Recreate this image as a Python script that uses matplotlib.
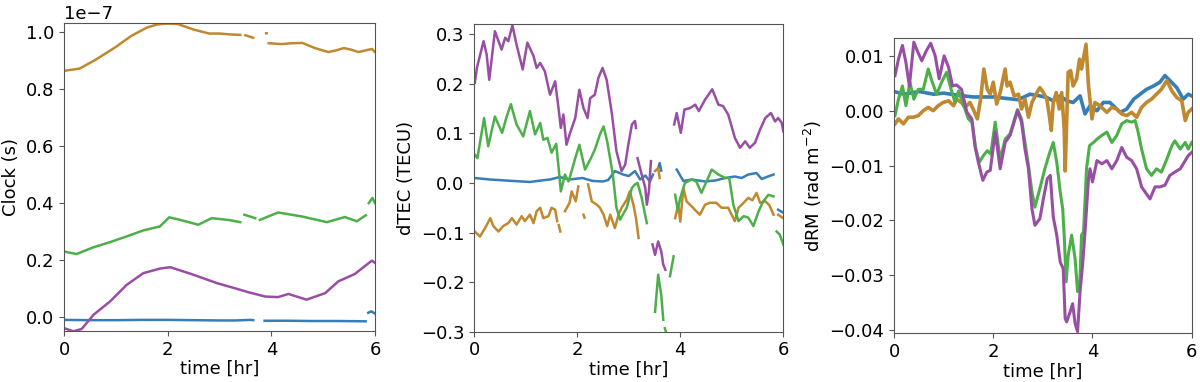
import numpy as np
import matplotlib
matplotlib.use("Agg")
import matplotlib.pyplot as plt

nan = np.nan

# ---------------- Panel 1: Clock (units of 1e-7 s) ----------------
clk_blue_t = [0, 0.5, 1.0, 1.5, 2.0, 2.5, 3.0, 3.3, 3.6, 3.65, nan, 3.87, 4.3, 4.8, 5.3, 5.82, nan, 5.87, 5.93, 6.0]
clk_blue_v = [-0.010, -0.011, -0.011, -0.010, -0.010, -0.011, -0.012, -0.012, -0.010, -0.011, nan,
              -0.013, -0.013, -0.014, -0.014, -0.015, nan, 0.015, 0.020, 0.012]

clk_orange_t = [0, 0.3, 0.6, 1.0, 1.3, 1.6, 1.8, 2.0, 2.2, 2.5, 2.8, 3.0, 3.2, 3.4, nan, 3.5, 3.65, nan,
                3.9, 3.91, nan, 3.95, 4.2, 4.4, 4.6, 4.84, 5.1, 5.25, 5.4, 5.55, 5.68, 5.8, 5.94, 6.0]
clk_orange_v = [0.864, 0.872, 0.902, 0.948, 0.987, 1.016, 1.027, 1.030, 1.028, 1.009, 0.995, 0.995, 0.992,
                0.990, nan, 0.989, 0.980, nan, 0.996, 0.996, nan, 0.961, 0.958, 0.961, 0.962, 0.944, 0.930,
                0.936, 0.944, 0.938, 0.930, 0.935, 0.941, 0.930]

clk_green_t = [0, 0.24, 0.57, 0.89, 1.21, 1.53, 1.85, 2.03, 2.24, 2.59, 2.85, 3.01, 3.2, 3.40, nan, 3.48,
               3.69, nan, 3.78, 4.13, 4.59, 5.07, 5.42, 5.65, 5.82, nan, 5.88, 5.95, 6.0]
clk_green_v = [0.230, 0.221, 0.245, 0.263, 0.283, 0.304, 0.318, 0.350, 0.341, 0.324, 0.347, 0.344, 0.340,
               0.333, nan, 0.359, 0.347, nan, 0.341, 0.367, 0.353, 0.333, 0.351, 0.336, 0.357, nan, 0.400,
               0.418, 0.400]

clk_purple_t = [0, 0.18, 0.34, 0.57, 0.89, 1.21, 1.53, 1.85, 2.05, 2.49, 2.95, 3.24, 3.56, 3.88, 4.13, 4.33,
                4.68, 5.04, 5.29, 5.61, 5.94, 6.0]
clk_purple_v = [-0.039, -0.050, -0.042, 0.008, 0.055, 0.113, 0.154, 0.170, 0.175, 0.149, 0.119, 0.104,
                0.087, 0.072, 0.070, 0.081, 0.061, 0.084, 0.125, 0.151, 0.198, 0.190]

# ---------------- Panel 2: dTEC (TECU) ----------------
tec_blue_t = [0, 0.3, 0.6, 1.08, 1.3, 1.47, 1.66, 1.85, 2.1, 2.3, 2.5, 2.6, 2.73, 2.89, 3.0, 3.12, 3.22,
              3.32, 3.41, 3.47, nan, 3.57, 3.6, 3.63, nan, 3.93, 4.06, 4.22, 4.48, 4.68, 4.87, 5.06, 5.19,
              5.32, 5.48, 5.58, 5.7, 5.81, nan, 5.9, 6.0]
tec_blue_v = [0.010, 0.007, 0.005, 0.002, 0.005, 0.007, 0.012, 0.007, 0.010, 0.004, 0.003, 0.006, 0.024,
              0.017, 0.014, 0.024, 0.007, 0.015, 0.003, 0.017, nan, 0.030, 0.040, 0.025, nan, 0.027, 0.004,
              0.007, 0.003, 0.005, 0.010, 0.013, 0.010, 0.017, 0.020, 0.008, 0.013, 0.017, nan, -0.054,
              -0.060]

tec_orange_t = [0.01, 0.11, 0.21, 0.31, 0.37, 0.47, 0.56, 0.66, 0.73, 0.82, 0.92, 0.98, 1.08, 1.15, 1.21,
                1.28, 1.34, 1.44, 1.50, 1.57, 1.61, nan, 1.64, 1.67, nan, 1.76, 1.85, 1.89, 1.97, 2.02, nan,
                2.12, 2.14, nan, 2.21, 2.28, 2.38, 2.44, 2.51, 2.58, 2.64, 2.73, 2.80, 2.86, 2.96, 3.02,
                3.09, 3.14, 3.19, nan, 3.51, 3.57, 3.60, nan, 3.90, 3.96, 4.0, 4.06, 4.12, 4.22, 4.31, 4.38,
                4.48, 4.57, 4.70, 4.80, 4.93, 5.03, 5.06, 5.13, 5.23, 5.32, 5.40, 5.48, 5.55, 5.65, 5.73,
                5.81, nan, 5.90, 6.0]
tec_orange_v = [-0.098, -0.108, -0.091, -0.071, -0.087, -0.098, -0.087, -0.081, -0.071, -0.084, -0.067,
                -0.077, -0.064, -0.081, -0.057, -0.050, -0.071, -0.067, -0.050, -0.054, -0.077, nan, -0.085,
                -0.098, nan, -0.057, -0.040, -0.017, -0.037, -0.007, nan, -0.064, -0.070, nan, -0.003,
                -0.037, -0.044, -0.050, -0.064, -0.087, -0.064, -0.091, -0.064, -0.050, -0.034, -0.017,
                -0.044, -0.071, -0.111, nan, 0.024, 0.030, 0.010, nan, -0.071, -0.044, -0.078, -0.010,
                -0.037, -0.047, -0.057, -0.064, -0.044, -0.040, -0.040, -0.050, -0.050, -0.071, -0.077,
                -0.050, -0.040, -0.030, -0.035, -0.020, -0.040, -0.037, -0.045, -0.064, nan, -0.064, -0.071]

tec_green_t = [0.01, 0.06, 0.19, 0.27, 0.40, 0.54, 0.62, 0.71, 0.82, 0.95, 1.08, 1.18, 1.28, 1.34, 1.42,
               1.50, 1.59, 1.65, 1.68, 1.76, 1.83, 1.89, 1.96, 2.04, 2.15, 2.25, 2.34, 2.44, 2.51, 2.58,
               2.69, 2.76, 2.83, 2.96, 3.06, 3.12, 3.17, 3.25, 3.35, nan, 3.51, 3.57, 3.63, 3.67, nan, 3.70,
               3.72, nan, 3.80, 3.87, nan, 3.90, 3.95, 4.0, 4.09, 4.22, 4.31, 4.41, 4.51, 4.61, 4.74, 4.87,
               4.95, 5.03, 5.13, 5.23, 5.32, 5.42, 5.52, 5.61, 5.71, 5.81, nan, 5.87, 5.93, 6.0]
tec_green_v = [0.057, 0.050, 0.131, 0.074, 0.134, 0.101, 0.131, 0.159, 0.118, 0.094, 0.145, 0.098, 0.121,
               0.087, 0.091, 0.061, 0.079, 0.017, -0.017, 0.017, 0.003, 0.024, 0.050, 0.077, 0.027, 0.047,
               0.067, 0.098, 0.114, 0.084, 0.017, -0.050, -0.074, -0.050, -0.010, -0.003, 0.000, -0.030,
               -0.081, nan, -0.260, -0.185, -0.226, -0.276, nan, -0.293, -0.300, nan, -0.188, -0.148, nan,
               -0.024, -0.054, -0.030, 0.000, 0.007, 0.003, -0.020, 0.003, 0.027, 0.017, 0.010, 0.010,
               -0.044, -0.077, -0.067, -0.070, -0.087, -0.057, -0.037, -0.024, -0.027, nan, -0.098, -0.104,
               -0.124]

tec_purple_t = [0.01, 0.05, 0.18, 0.24, 0.29, 0.40, 0.47, 0.53, 0.60, 0.66, 0.74, 0.82, 0.94, 1.03, 1.15,
                1.21, 1.28, 1.37, 1.47, 1.57, 1.65, 1.68, 1.73, 1.79, 1.86, 1.96, 2.04, 2.12, 2.20, 2.25,
                2.34, 2.41, 2.49, 2.57, 2.67, 2.76, 2.86, 2.93, 2.99, 3.06, 3.12, 3.14, nan, 3.17, 3.25,
                3.32, 3.35, 3.39, 3.43, nan, 3.46, 3.51, 3.57, 3.63, 3.67, 3.71, nan, 3.88, 3.93, 4.01,
                4.08, 4.19, 4.29, 4.36, 4.48, 4.62, 4.74, 4.83, 4.93, 5.06, 5.16, 5.26, 5.35, 5.45, 5.55,
                5.65, 5.76, 5.84, 5.90, 5.97, 6.0]
tec_purple_v = [0.202, 0.232, 0.286, 0.259, 0.208, 0.306, 0.286, 0.269, 0.293, 0.286, 0.318, 0.279, 0.229,
                0.283, 0.256, 0.232, 0.242, 0.225, 0.178, 0.205, 0.138, 0.111, 0.138, 0.077, 0.101, 0.131,
                0.188, 0.151, 0.131, 0.171, 0.178, 0.212, 0.232, 0.208, 0.141, 0.064, 0.024, 0.037, 0.077,
                0.118, 0.125, 0.111, nan, 0.050, 0.017, -0.010, -0.044, -0.017, 0.044, nan, -0.124, -0.145,
                -0.118, -0.138, -0.165, -0.175, nan, 0.118, 0.141, 0.101, 0.148, 0.151, 0.158, 0.145,
                0.168, 0.189, 0.158, 0.155, 0.138, 0.091, 0.071, 0.084, 0.071, 0.081, 0.108, 0.131, 0.141,
                0.124, 0.131, 0.121, 0.104]

# ---------------- Panel 3: dRM (rad m^-2) ----------------
rm_blue_t = [0, 0.2, 0.5, 0.8, 1.0, 1.3, 1.6, 2.0, 2.3, 2.5, 2.74, 2.94, 3.08, 3.21, 3.35, 3.48, 3.61,
             3.75, 3.85, 3.95, 4.09, 4.22, 4.35, 4.56, 4.69, 4.83, 4.96, 5.09, 5.23, 5.36, 5.46, 5.56, 5.70,
             5.83, 5.93, 6.0]
rm_blue_v = [0.0035, 0.0030, 0.0035, 0.0030, 0.0032, 0.0028, 0.0025, 0.0025, 0.0022, 0.0020, 0.0030,
             0.0027, 0.0024, 0.0018, 0.0027, 0.0018, 0.0015, 0.0027, -0.0006, 0.0009, 0.0000, 0.0015,
             0.0015, -0.0003, 0.0003, 0.0021, 0.0030, 0.0039, 0.0045, 0.0052, 0.0064, 0.0055, 0.0042,
             0.0021, 0.0030, 0.0027]

rm_orange_t = [0.02, 0.09, 0.19, 0.29, 0.39, 0.49, 0.59, 0.69, 0.79, 0.89, 0.99, 1.10, 1.20, 1.26, 1.36,
               1.43, 1.53, 1.61, 1.68, 1.75, 1.81, 1.88, 1.94, 2.0, 2.07, 2.14, 2.24, 2.28, 2.34, 2.42, 2.51,
               2.57, 2.64, 2.71, 2.78, 2.88, 2.94, 3.01, 3.08, 3.13, 3.17, 3.21, 3.27, 3.33, 3.38, 3.43,
               3.45, 3.48, 3.51, 3.56, 3.61, 3.68, 3.74, 3.78, 3.87, 3.92, 3.99, 4.05, 4.15, 4.29, 4.39,
               4.49, 4.59, 4.69, 4.79, 4.89, 4.99, 5.09, 5.19, 5.29, 5.39, 5.50, 5.60, 5.70, 5.80, 5.87,
               5.93, 6.0]
rm_orange_v = [-0.0024, -0.0015, -0.0024, -0.0012, -0.0012, -0.0009, 0.0000, 0.0006, 0.0000, 0.0009,
               0.0015, 0.0018, 0.0009, 0.0021, 0.0015, 0.0006, 0.0015, 0.0000, -0.0015, 0.0024, 0.0076,
               0.0039, 0.0030, 0.0052, 0.0012, 0.0033, 0.0076, 0.0045, 0.0052, 0.0027, 0.0030, 0.0003,
               0.0021, -0.0012, 0.0015, 0.0033, 0.0042, 0.0033, 0.0021, -0.0009, -0.0036, 0.0015, 0.0033,
               0.0003, 0.0033, -0.0033, -0.0110, -0.0020, 0.0070, 0.0073, 0.0045, 0.0058, 0.0094, 0.0076,
               0.0121, 0.0045, -0.0015, 0.0015, 0.0009, -0.0003, 0.0006, 0.0003, -0.0006, -0.0009, -0.0003,
               -0.0012, 0.0006, 0.0015, 0.0021, 0.0030, 0.0039, 0.0055, 0.0036, 0.0024, 0.0018, -0.0018,
               -0.0003, 0.0003]

rm_green_t = [0.02, 0.09, 0.17, 0.24, 0.32, 0.40, 0.49, 0.59, 0.69, 0.76, 0.86, 0.96, 1.06, 1.16, 1.23,
              1.30, 1.36, 1.43, 1.50, 1.57, 1.65, 1.72, 1.80, 1.88, 1.95, 2.04, 2.14, 2.24, 2.34, 2.44, 2.49,
              2.57, 2.64, 2.71, 2.78, 2.84, 2.94, 3.04, 3.14, 3.21, 3.28, 3.35, 3.40, 3.43, 3.47, 3.51, 3.58,
              3.65, 3.70, 3.74, 3.78, 3.82, 3.88, 3.94, 4.02, 4.09, 4.19, 4.29, 4.39, 4.49, 4.59, 4.69, 4.79,
              4.86, 4.92, 4.99, 5.09, 5.19, 5.29, 5.39, 5.50, 5.60, 5.66, 5.77, 5.87, 5.93, 6.0]
rm_green_v = [-0.0009, 0.0021, 0.0045, 0.0009, 0.0052, 0.0021, 0.0039, 0.0039, 0.0076, 0.0055, 0.0030,
              0.0052, 0.0070, 0.0036, 0.0015, 0.0036, 0.0021, 0.0003, -0.0015, -0.0021, -0.0070, -0.0094,
              -0.0082, -0.0073, -0.0079, -0.0021, -0.0090, -0.0052, -0.0042, -0.0012, 0.0002, -0.0015,
              -0.0058, -0.0100, -0.0148, -0.0176, -0.0142, -0.0106, -0.0076, -0.0058, -0.0094, -0.0148,
              -0.0179, -0.0227, -0.0312, -0.0264, -0.0227, -0.0270, -0.0330, -0.0324, -0.0227, -0.0221,
              -0.0106, -0.0064, -0.0058, -0.0052, -0.0045, -0.0039, -0.0058, -0.0045, -0.0024, -0.0018,
              -0.0021, -0.0018, -0.0039, -0.0070, -0.0106, -0.0118, -0.0106, -0.0112, -0.0088, -0.0064,
              -0.0055, -0.0070, -0.0058, -0.0070, -0.0058]

rm_purple_t = [0.02, 0.09, 0.17, 0.24, 0.31, 0.40, 0.47, 0.56, 0.65, 0.74, 0.83, 0.91, 1.01, 1.10, 1.18,
               1.26, 1.36, 1.47, 1.57, 1.63, 1.70, 1.79, 1.87, 1.94, 2.04, 2.14, 2.24, 2.34, 2.44, 2.49, 2.57,
               2.64, 2.71, 2.78, 2.84, 2.94, 3.01, 3.09, 3.15, 3.21, 3.28, 3.35, 3.41, 3.45, 3.48, 3.55, 3.60,
               3.65, 3.70, 3.75, 3.80, 3.85, 3.92, 3.95, 4.0, 4.09, 4.19, 4.29, 4.39, 4.49, 4.59, 4.69, 4.79,
               4.89, 4.99, 5.09, 5.16, 5.26, 5.36, 5.46, 5.56, 5.66, 5.77, 5.87, 5.93, 6.0]
rm_purple_v = [0.0064, 0.0094, 0.0119, 0.0088, 0.0045, 0.0125, 0.0109, 0.0091, 0.0109, 0.0123, 0.0100,
               0.0058, 0.0100, 0.0079, 0.0045, 0.0047, 0.0039, -0.0003, -0.0015, -0.0064, -0.0094, -0.0127,
               -0.0112, -0.0109, -0.0039, -0.0106, -0.0058, -0.0045, -0.0015, 0.0000, -0.0021, -0.0070,
               -0.0106, -0.0179, -0.0209, -0.0197, -0.0161, -0.0124, -0.0118, -0.0194, -0.0227, -0.0276,
               -0.0288, -0.0379, -0.0385, -0.0367, -0.0352, -0.0388, -0.0403, -0.0330, -0.0282, -0.0221,
               -0.0124, -0.0106, -0.0130, -0.0091, -0.0097, -0.0091, -0.0106, -0.0091, -0.0067, -0.0085,
               -0.0091, -0.0106, -0.0139, -0.0152, -0.0161, -0.0139, -0.0139, -0.0136, -0.0118, -0.0112,
               -0.0106, -0.0091, -0.0082, -0.0076]

x_ticks = [0, 2, 4, 6]
clock_ticks = [0.0, 0.2, 0.4, 0.6, 0.8, 1.0]
tec_ticks = [-0.3, -0.2, -0.1, 0.0, 0.1, 0.2, 0.3]
rm_ticks = [-0.04, -0.03, -0.02, -0.01, 0.00, 0.01]

C_BLUE = '#377eb8'
C_ORANGE = '#c0882f'
C_GREEN = '#4daf4a'
C_PURPLE = '#984ea3'

plt.rcParams['font.family'] = ['DejaVu Sans']
plt.rcParams['font.size'] = 13

fig = plt.figure(figsize=(12, 3.82), dpi=100)
ax1 = fig.add_axes([64/1200, 1-331/382, 311/1200, 308/382])
ax2 = fig.add_axes([474.3/1200, 1-331.7/382, 309/1200, 307.4/382])
ax3 = fig.add_axes([894/1200, 1-333.3/382, 297.7/1200, 295/382])

lw12 = 1.8
# Panel 1
ax1.plot(clk_blue_t, np.array(clk_blue_v) * 1e-7, color=C_BLUE, lw=lw12)
ax1.plot(clk_orange_t, np.array(clk_orange_v) * 1e-7, color=C_ORANGE, lw=lw12)
ax1.plot(clk_green_t, np.array(clk_green_v) * 1e-7, color=C_GREEN, lw=lw12)
ax1.plot(clk_purple_t, np.array(clk_purple_v) * 1e-7, color=C_PURPLE, lw=lw12)
ax1.set_xlim(0, 6)
ax1.set_ylim(-0.049e-7, 1.032e-7)
ax1.set_yticks(np.array(clock_ticks) * 1e-7)
ax1.set_xticks(x_ticks)
ax1.set_ylabel('Clock (s)')

# Panel 2
ax2.plot(tec_blue_t, tec_blue_v, color=C_BLUE, lw=lw12)
ax2.plot(tec_orange_t, tec_orange_v, color=C_ORANGE, lw=lw12)
ax2.plot(tec_green_t, tec_green_v, color=C_GREEN, lw=lw12)
ax2.plot(tec_purple_t, tec_purple_v, color=C_PURPLE, lw=lw12)
ax2.set_xlim(0, 6)
ax2.set_ylim(-0.3, 0.32)
ax2.set_yticks(tec_ticks)
ax2.set_xticks(x_ticks)
ax2.set_ylabel('dTEC (TECU)')

# Panel 3
lw3 = 2.6
ax3.plot(rm_blue_t, rm_blue_v, color=C_BLUE, lw=lw3)
ax3.plot(rm_orange_t, rm_orange_v, color=C_ORANGE, lw=lw3)
ax3.plot(rm_green_t, rm_green_v, color=C_GREEN, lw=lw3 - 0.4)
ax3.plot(rm_purple_t, rm_purple_v, color=C_PURPLE, lw=lw3 - 0.4)
ax3.set_xlim(0, 6)
ax3.set_ylim(-0.0406, 0.0132)
ax3.set_yticks(rm_ticks)
ax3.set_xticks(x_ticks)
ax3.set_ylabel('dRM (rad m$^{-2}$)')

for ax in (ax1, ax2, ax3):
    ax.set_xlabel('time [hr]', labelpad=1)
    for s in ax.spines.values():
        s.set_color('#555555')
    ax.tick_params(color='#555555')

fig.savefig('out.png', dpi=100)
